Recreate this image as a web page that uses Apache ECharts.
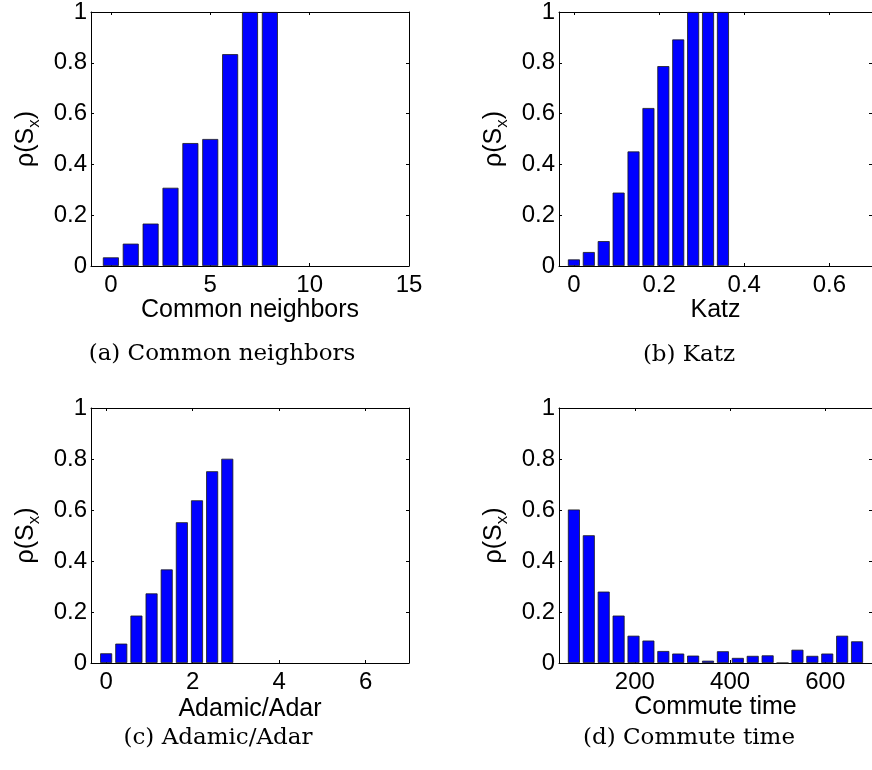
<!DOCTYPE html>
<html>
<head>
<meta charset="utf-8">
<script src="https://cdn.jsdelivr.net/npm/echarts@6/dist/echarts.min.js"></script>
<style>
html,body{margin:0;padding:0;background:#fff;}
#c{width:872px;height:770px;}
</style>
</head>
<body>
<div id="c"></div>
<script>
// ---- data ----
const cnX = [0, 1, 2, 3, 4, 5, 6, 7, 8];
const cnY = [0.034, 0.088, 0.167, 0.308, 0.484, 0.500, 0.834, 1.0, 1.0];
const katzX = [0, 0.035, 0.07, 0.105, 0.14, 0.175, 0.21, 0.245, 0.28, 0.315, 0.35];
const katzY = [0.026, 0.055, 0.098, 0.289, 0.451, 0.622, 0.787, 0.892, 1.0, 1.0, 1.0];
const aaX = [0, 0.35, 0.7, 1.05, 1.4, 1.75, 2.1, 2.45, 2.8];
const aaY = [0.038, 0.076, 0.186, 0.273, 0.367, 0.552, 0.638, 0.752, 0.801];
const ctX = [72.0, 103.3, 134.6, 165.9, 197.2, 228.5, 259.8, 291.1, 322.4, 353.7, 385.0, 416.3, 447.6, 478.9, 510.2, 541.5, 572.8, 604.1, 635.4, 666.7];
const ctY = [0.602, 0.501, 0.280, 0.186, 0.107, 0.088, 0.047, 0.037, 0.029, 0.009, 0.046, 0.020, 0.028, 0.030, 0, 0.052, 0.028, 0.037, 0.107, 0.085];

const cnTicks = [0, 5, 10, 15];
const katzTicks = [0, 0.2, 0.4, 0.6];
const aaTicks = [0, 2, 4, 6];
const ctTicks = [200, 400, 600];
const yTicks = [0, 0.2, 0.4, 0.6, 0.8, 1];

const xTitles = ['Common neighbors', 'Katz', 'Adamic/Adar', 'Commute time'];
const captions = ['(a) Common neighbors', '(b) Katz', '(c) Adamic/Adar', '(d) Commute time'];

// ---- layout ----
const SANS = '"Liberation Sans", Arial, Helvetica, sans-serif';
const panels = [
  {x: cnX, y: cnY, ticks: cnTicks, min: -1, max: 15, left: 91, top: 11, h: 255, bw: 16, gap: 28, cap: [222, 354]},
  {x: katzX, y: katzY, ticks: katzTicks, min: -0.035, max: 0.7, left: 559, top: 11, h: 255, bw: 12, gap: 28, cap: [689, 355]},
  {x: aaX, y: aaY, ticks: aaTicks, min: -0.35, max: 7, left: 91, top: 408, h: 255, bw: 12, gap: 34, cap: [218, 738]},
  {x: ctX, y: ctY, ticks: ctTicks, min: 40.7, max: 698.1, left: 559, top: 408, h: 255, bw: 12, gap: 23, cap: [689, 738]}
];

const grid = [], xAxis = [], yAxis = [], series = [], graphic = [];
panels.forEach((p, i) => {
  grid.push({left: p.left, top: p.top, width: 318, height: p.h, show: false, containLabel: false});
  const lineStyle = {color: '#000', width: 1};
  xAxis.push({
    type: 'value', gridIndex: i, min: p.min, max: p.max, position: 'bottom',
    axisLine: {show: true, onZero: false, lineStyle},
    axisTick: {show: true, inside: true, length: 3, lineStyle, customValues: p.ticks},
    axisLabel: {show: true, customValues: p.ticks, margin: 7, color: '#000', fontSize: 24, fontFamily: SANS,
      showMinLabel: true, showMaxLabel: true},
    splitLine: {show: false},
    name: xTitles[i], nameLocation: 'middle', nameGap: p.gap,
    nameTextStyle: {color: '#000', fontSize: 25, fontFamily: SANS}
  });
  xAxis.push({
    type: 'value', gridIndex: i, min: p.min, max: p.max, position: 'top',
    axisLine: {show: true, onZero: false, lineStyle},
    axisTick: {show: true, inside: true, length: 3, lineStyle, customValues: p.ticks},
    axisLabel: {show: false}, splitLine: {show: false}
  });
  yAxis.push({
    type: 'value', gridIndex: i, min: 0, max: 1, position: 'left',
    axisLine: {show: true, onZero: false, lineStyle},
    axisTick: {show: true, inside: true, length: 3, lineStyle, customValues: yTicks},
    axisLabel: {show: true, customValues: yTicks, margin: 4, color: '#000', fontSize: 24, fontFamily: SANS},
    splitLine: {show: false},
    name: '{n|\u03c1(S}{s|x}{n|)}', nameLocation: 'middle', nameGap: 48, nameRotate: 90,
    nameTextStyle: {
      color: '#000', fontFamily: SANS, fontSize: 25,
      rich: {
        n: {fontSize: 25, lineHeight: 34, fontFamily: SANS, color: '#000'},
        s: {fontSize: 17, verticalAlign: 'bottom', fontFamily: SANS, color: '#000'}
      }
    }
  });
  yAxis.push({
    type: 'value', gridIndex: i, min: 0, max: 1, position: 'right',
    axisLine: {show: true, onZero: false, lineStyle},
    axisTick: {show: true, inside: true, length: 3, lineStyle, customValues: yTicks},
    axisLabel: {show: false}, splitLine: {show: false}
  });
  series.push({
    type: 'bar', xAxisIndex: 2 * i, yAxisIndex: 2 * i,
    data: p.x.map((v, k) => [v, p.y[k]]),
    barWidth: p.bw,
    itemStyle: {color: '#0000ff', borderColor: '#1a1a1a', borderWidth: 0.8},
    animation: false, silent: true
  });
  graphic.push({
    type: 'text', x: p.cap[0], y: p.cap[1],
    style: {text: captions[i], fill: '#000', font: '23px "DejaVu Serif", serif',
      textAlign: 'center', textVerticalAlign: 'middle'}
  });
});

const chart = echarts.init(document.getElementById('c'), null, {renderer: 'canvas'});
chart.setOption({animation: false, grid, xAxis, yAxis, series, graphic});
</script>
</body>
</html>
